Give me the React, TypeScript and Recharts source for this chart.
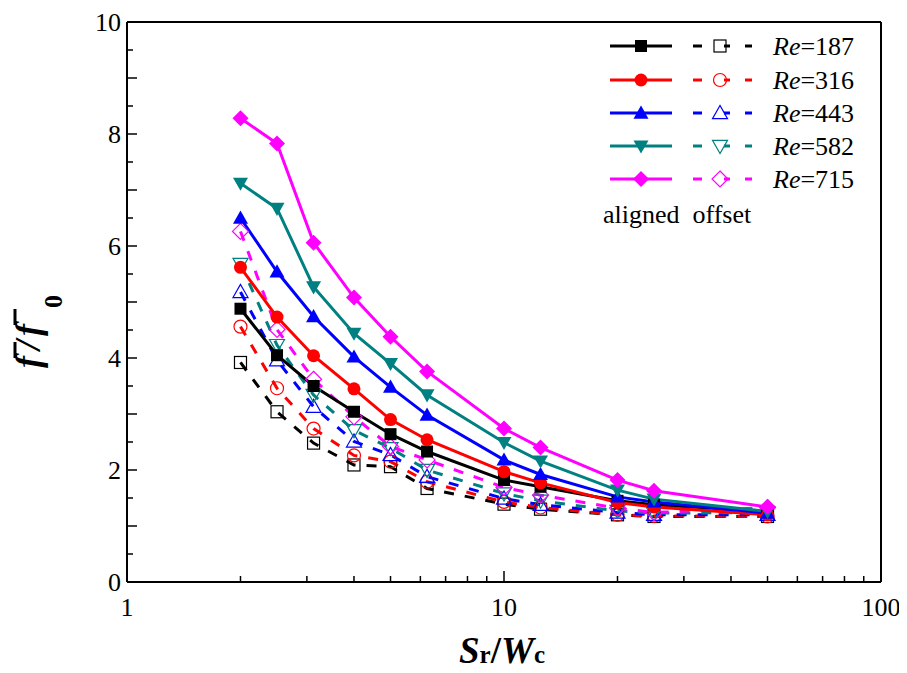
import React from 'react';
import { LineChart, Line, XAxis, YAxis, ReferenceLine } from 'recharts';

/** 横坐标 Sr/Wc */
const xValues = [2, 2.5, 3.125, 4, 5, 6.25, 10, 12.5, 20, 25, 50];

/** aligned（实线实心） */
const aligned187 = [4.88, 4.05, 3.5, 3.04, 2.64, 2.33, 1.82, 1.7, 1.45, 1.38, 1.26];
const aligned316 = [5.62, 4.73, 4.04, 3.45, 2.9, 2.54, 1.97, 1.77, 1.42, 1.34, 1.2];
const aligned443 = [6.5, 5.54, 4.74, 4.02, 3.48, 2.98, 2.18, 1.92, 1.52, 1.43, 1.23];
const aligned582 = [7.12, 6.67, 5.27, 4.44, 3.9, 3.34, 2.49, 2.16, 1.64, 1.48, 1.26];
const aligned715 = [8.28, 7.83, 6.06, 5.08, 4.38, 3.76, 2.74, 2.4, 1.82, 1.63, 1.34];

/** offset（虚线空心） */
const offset187 = [3.92, 3.04, 2.48, 2.09, 2.06, 1.67, 1.39, 1.3, 1.2, 1.17, 1.17];
const offset316 = [4.56, 3.46, 2.74, 2.26, 2.15, 1.79, 1.43, 1.33, 1.2, 1.18, 1.17];
const offset443 = [5.18, 3.96, 3.13, 2.51, 2.27, 1.88, 1.49, 1.38, 1.24, 1.2, 1.2];
const offset582 = [5.68, 4.23, 3.34, 2.71, 2.39, 2.0, 1.58, 1.45, 1.27, 1.23, 1.24];
const offset715 = [6.26, 4.51, 3.62, 2.95, 2.42, 2.18, 1.69, 1.55, 1.32, 1.24, 1.33];

/** 刻度 */
const xTicks = [1, 2, 3, 4, 5, 6, 7, 8, 9, 10, 20, 30, 40, 50, 60, 70, 80, 90, 100];
const xLabels = [1, 10, 100];
const yTicks = [0, 0.5, 1, 1.5, 2, 2.5, 3, 3.5, 4, 4.5, 5, 5.5, 6, 6.5, 7, 7.5, 8, 8.5, 9, 9.5, 10];
const yLabels = [0, 2, 4, 6, 8, 10];

const reList = ['187', '316', '443', '582', '715'];

type Shape = 'square' | 'circle' | 'up' | 'down' | 'diamond';

const SERIES: { re: string; color: string; shape: Shape; aligned: number[]; offset: number[] }[] = [
  { re: '187', color: '#000000', shape: 'square', aligned: aligned187, offset: offset187 },
  { re: '316', color: '#ff0000', shape: 'circle', aligned: aligned316, offset: offset316 },
  { re: '443', color: '#0000ff', shape: 'up', aligned: aligned443, offset: offset443 },
  { re: '582', color: '#008080', shape: 'down', aligned: aligned582, offset: offset582 },
  { re: '715', color: '#ff00ff', shape: 'diamond', aligned: aligned715, offset: offset715 },
];

const data = xValues.map((x, i) => {
  const row: Record<string, number> = { x };
  SERIES.forEach((s) => {
    row[`a${s.re}`] = s.aligned[i];
    row[`o${s.re}`] = s.offset[i];
  });
  return row;
});

const FONT = '"Liberation Serif", "Times New Roman", serif';

/** 标记符号 */
function Marker({
  shape,
  cx,
  cy,
  color,
  filled,
}: {
  shape: Shape;
  cx: number;
  cy: number;
  color: string;
  filled: boolean;
}) {
  const fill = filled ? color : 'none';
  const sw = filled ? 0 : 1.2;
  if (shape === 'square') {
    const h = 6;
    return <rect x={cx - h} y={cy - h} width={h * 2} height={h * 2} fill={fill} stroke={color} strokeWidth={sw} />;
  }
  if (shape === 'circle') {
    return <circle cx={cx} cy={cy} r={6.5} fill={fill} stroke={color} strokeWidth={sw} />;
  }
  if (shape === 'up') {
    const r = 7.5;
    return (
      <polygon
        points={`${cx},${cy - r} ${cx - r},${cy + r * 0.75} ${cx + r},${cy + r * 0.75}`}
        fill={fill}
        stroke={color}
        strokeWidth={sw}
      />
    );
  }
  if (shape === 'down') {
    const r = 7.5;
    return (
      <polygon
        points={`${cx},${cy + r} ${cx - r},${cy - r * 0.75} ${cx + r},${cy - r * 0.75}`}
        fill={fill}
        stroke={color}
        strokeWidth={sw}
      />
    );
  }
  const r = 8;
  return (
    <polygon
      points={`${cx},${cy - r} ${cx + r},${cy} ${cx},${cy + r} ${cx - r},${cy}`}
      fill={fill}
      stroke={color}
      strokeWidth={sw}
    />
  );
}

function makeDot(shape: Shape, color: string, filled: boolean) {
  return (props: any) => {
    const { cx, cy, index } = props;
    if (cx == null || cy == null) return <g key={`d-${index}`} />;
    return (
      <g key={`d-${shape}-${filled}-${index}`}>
        <Marker shape={shape} cx={cx} cy={cy} color={color} filled={filled} />
      </g>
    );
  };
}

function XTick(props: any) {
  const { x, y, payload } = props;
  const v = payload.value;
  const major = xLabels.includes(v);
  return (
    <g>
      <line x1={x} x2={x} y1={y} y2={y - (major ? 11 : 6)} stroke="#000" strokeWidth={1.5} />
      {major && (
        <text x={x} y={y + 34} textAnchor="middle" fontFamily={FONT} fontSize={26} fill="#000">
          {v}
        </text>
      )}
    </g>
  );
}

function YTick(props: any) {
  const { x, y, payload } = props;
  const v = payload.value;
  const major = Number.isInteger(v);
  const label = yLabels.includes(v);
  return (
    <g>
      <line x1={x} x2={x + (major ? 10 : 6)} y1={y} y2={y} stroke="#000" strokeWidth={1.5} />
      {label && (
        <text x={x - 6} y={y + 9} textAnchor="end" fontFamily={FONT} fontSize={26} fill="#000">
          {v}
        </text>
      )}
    </g>
  );
}

/** 图例 */
function LegendOverlay() {
  const rows = [38, 72, 105, 138, 171];
  return (
    <g>
      {SERIES.map((s, i) => {
        const y = rows[i];
        return (
          <g key={s.re}>
            <line x1={602} x2={664} y1={y} y2={y} stroke={s.color} strokeWidth={3} />
            <Marker shape={s.shape} cx={633} cy={y} color={s.color} filled />
            <line x1={685} x2={694} y1={y} y2={y} stroke={s.color} strokeWidth={3} />
            <line x1={716} x2={722} y1={y} y2={y} stroke={s.color} strokeWidth={3} />
            <line x1={737} x2={744} y1={y} y2={y} stroke={s.color} strokeWidth={3} />
            <Marker shape={s.shape} cx={712} cy={y} color={s.color} filled={false} />
            <text x={765} y={y + 9} fontFamily={FONT} fontSize={26} fill="#000">
              <tspan fontStyle="italic">Re</tspan>={reList[i]}
            </text>
          </g>
        );
      })}
      <text x={595} y={215} fontFamily={FONT} fontSize={26} fill="#000" xmlSpace="preserve">
        aligned  offset
      </text>
    </g>
  );
}

function Titles() {
  return (
    <g>
      <text x={494} y={655} textAnchor="middle" fontFamily={FONT} fontWeight="bold" fill="#000">
        <tspan fontSize={37} fontStyle="italic">S</tspan>
        <tspan fontSize={25}>r</tspan>
        <tspan fontSize={37}>/</tspan>
        <tspan fontSize={37} fontStyle="italic">W</tspan>
        <tspan fontSize={25}>c</tspan>
      </text>
      <g transform="translate(32, 362) rotate(-90)">
        <text x={2} y={0} fontFamily={FONT} fontWeight="bold" fontStyle="italic" fontSize={36} fill="#000">
          f
        </text>
        <text x={20} y={0} fontFamily={FONT} fontWeight="bold" fontStyle="italic" fontSize={36} fill="#000">
          /
        </text>
        <text x={34} y={0} fontFamily={FONT} fontWeight="bold" fontStyle="italic" fontSize={36} fill="#000">
          f
        </text>
        <text x={62} y={22} fontFamily={FONT} fontWeight="bold" fontSize={26} fill="#000">
          0
        </text>
        <line x1={12} x2={28} y1={-25} y2={-25} stroke="#000" strokeWidth={3} />
        <line x1={45} x2={61} y1={-25} y2={-25} stroke="#000" strokeWidth={3} />
      </g>
    </g>
  );
}

export default function App() {
  return (
    <div style={{ position: 'relative', width: 899, height: 665 }}>
      <LineChart
        width={899}
        height={665}
        data={data}
        margin={{ top: 14, right: 26, left: 118, bottom: 90 }}
      >
        <XAxis
          dataKey="x"
          type="number"
          scale="log"
          domain={[1, 100]}
          allowDataOverflow
          ticks={xTicks}
          interval={0}
          tick={<XTick />}
          tickLine={false}
          tickSize={0}
          tickMargin={0}
          height={1}
          axisLine={{ stroke: '#000', strokeWidth: 2 }}
        />
        <YAxis
          type="number"
          domain={[0, 10]}
          ticks={yTicks}
          interval={0}
          tick={<YTick />}
          tickLine={false}
          tickSize={0}
          tickMargin={0}
          width={1}
          axisLine={{ stroke: '#000', strokeWidth: 2 }}
        />
        <ReferenceLine y={10} stroke="#000" strokeWidth={2} />
        <ReferenceLine x={100} stroke="#000" strokeWidth={2} />
        {SERIES.map((s) => (
          <Line
            key={`o${s.re}`}
            dataKey={`o${s.re}`}
            stroke={s.color}
            strokeWidth={3}
            strokeDasharray="10 11"
            dot={makeDot(s.shape, s.color, false)}
            activeDot={false}
            isAnimationActive={false}
            type="linear"
          />
        ))}
        {SERIES.map((s) => (
          <Line
            key={`a${s.re}`}
            dataKey={`a${s.re}`}
            stroke={s.color}
            strokeWidth={3}
            dot={makeDot(s.shape, s.color, true)}
            activeDot={false}
            isAnimationActive={false}
            type="linear"
          />
        ))}
      </LineChart>
      <svg
        width={899}
        height={665}
        style={{ position: 'absolute', left: 0, top: 0, pointerEvents: 'none' }}
      >
        <LegendOverlay />
        <Titles />
      </svg>
    </div>
  );
}
